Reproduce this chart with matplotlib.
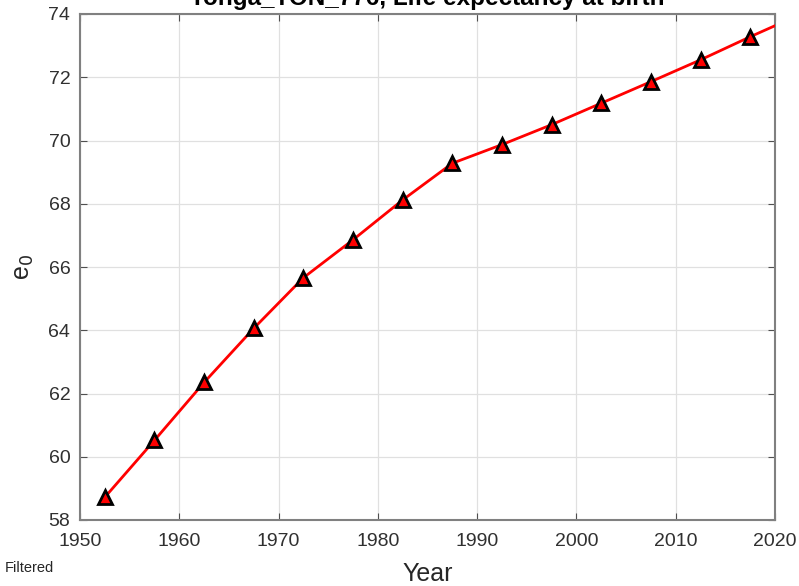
import matplotlib

matplotlib.use("Agg")
import matplotlib.pyplot as plt

plt.rcParams["font.family"] = ["Liberation Sans", "DejaVu Sans"]

# 5-year period midpoints and filtered e0
years = [1952.5, 1957.5, 1962.5, 1967.5, 1972.5, 1977.5, 1982.5,
         1987.5, 1992.5, 1997.5, 2002.5, 2007.5, 2012.5, 2017.5]
e0 = [58.72, 60.52, 62.35, 64.06, 65.66, 66.86, 68.12,
      69.28, 69.87, 70.50, 71.18, 71.86, 72.55, 73.28]
# line continues past the last marker (clipped at the axis edge)
line_years = years + [2022.5]
line_e0 = e0 + [73.98]

xticks = list(range(1950, 2021, 10))
yticks = list(range(58, 75, 2))

fig = plt.figure(figsize=(7.99, 5.86), dpi=100)
ax = fig.add_axes([80 / 799, 1 - 520 / 586, 695 / 799, 506 / 586])

ax.plot(line_years, line_e0, "-", color="red", lw=2, zorder=3)
ax.plot(years, e0, "^", ms=10.5, mfc="red", mec="black", mew=2,
        ls="none", zorder=4)

ax.set_xlim(1950, 2020)
ax.set_ylim(58, 74)
ax.set_xticks(xticks)
ax.set_yticks(yticks)
ax.grid(True, color="#e0e0e0", lw=0.9)
ax.set_axisbelow(True)
ax.tick_params(direction="in", top=True, right=True, length=5,
               color="#505050", labelsize=14, labelcolor="#303030")
ax.tick_params(axis="x", pad=9)
ax.tick_params(axis="y", pad=7)
for s in ax.spines.values():
    s.set_color("#808080")
    s.set_linewidth(1.5)

ax.set_xlabel("Year", fontsize=18, color="#262626", labelpad=9)
ax.set_ylabel("e$_0$", fontsize=18, color="#262626", labelpad=9)
# title sits partly outside the figure, as in the source image
fig.text(0.535, 1 - 5 / 586, "Tonga_TON_776, Life expectancy at birth",
         fontsize=17.5, fontweight="bold", ha="center", va="baseline")
fig.text(5 / 799, 1 - 568 / 586, "Filtered", fontsize=10.5, va="center",
         color="#262626")

fig.savefig("out.png", dpi=100)
plt.close(fig)
